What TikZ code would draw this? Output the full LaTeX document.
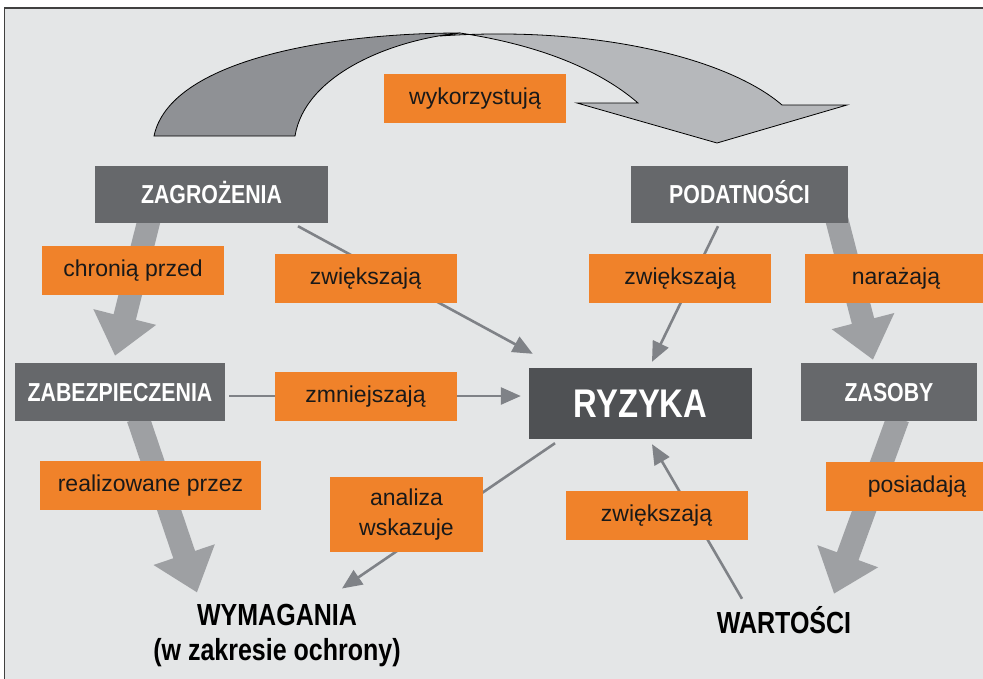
\documentclass[tikz,border=0pt]{standalone}
\usepackage{fontspec}
\setmainfont{Liberation Sans}
\newfontfamily\condfont{Liberation Sans}[FakeStretch=0.82]
\usetikzlibrary{arrows.meta,calc}
\pgfdeclarelayer{bg}
\pgfdeclarelayer{mid}
\pgfsetlayers{bg,mid,main}
\definecolor{bggray}{HTML}{E4E6E7}
\definecolor{boxgray}{HTML}{66686B}
\definecolor{riskgray}{HTML}{4F5154}
\definecolor{lblorange}{HTML}{F0822A}
\definecolor{linegray}{HTML}{7F8287}
\definecolor{fatgray}{HTML}{9EA0A3}
\definecolor{bandlight}{HTML}{B6B8BB}
\definecolor{banddark}{HTML}{8F9195}
\tikzset{
 entity/.style={fill=boxgray,text=white,inner sep=0pt,minimum height=57pt,text height=18.6pt,text depth=0pt,font=\condfont\bfseries\fontsize{26}{30}\selectfont},
 verb/.style={fill=lblorange,text=black!90,inner sep=0pt,minimum width=182pt,minimum height=49pt,font=\fontsize{23}{27}\selectfont},
 result/.style={inner sep=0pt,align=center,font=\condfont\bfseries\fontsize{30.5}{35}\selectfont},
 thinarrow/.style={draw=linegray,line width=2.6pt,-{Triangle[length=20pt,width=17pt]}},
 fatarrow/.style={draw=fatgray,line width=23pt,-{Triangle[length=40pt,width=62pt]}}
}
\begin{document}
\begin{tikzpicture}[x=1pt,y=-1pt]
\useasboundingbox (0,0) rectangle (983,678);
\begin{pgfonlayer}{bg}
\fill[bggray] (4.5,8) rectangle (990,690);
\draw[black!75,line width=1.5pt] (4.5,690) -- (4.5,8) -- (990,8);
\end{pgfonlayer}
% twisted band on top
\filldraw[fill=banddark,draw=black,line width=0.8pt] (154,136) .. controls (170,60) and (330,33) .. (460,33) .. controls (390,40) and (305,75) .. (295,136) -- cycle;
\filldraw[fill=bandlight,draw=black,line width=0.8pt] (440,36) .. controls (600,25) and (730,60) .. (782,105) -- (847,105) -- (717,143) -- (577,103) -- (638,103) .. controls (600,70) and (540,45) .. (460,33) -- cycle;
% boxes
\node[entity,minimum width=233pt] (zagr) at (211.5,194.5) {ZAGROŻENIA};
\node[entity,minimum width=217pt] (poda) at (739.5,194.5) {PODATNOŚCI};
\node[entity,minimum width=210pt,minimum height=58pt] (zabe) at (120,392) {ZABEZPIECZENIA};
\node[entity,minimum width=176pt,minimum height=58pt] (zaso) at (889,392) {ZASOBY};
\node[entity,fill=riskgray,minimum width=223pt,minimum height=71pt,text height=28.6pt,font=\condfont\bfseries\fontsize{40}{44}\selectfont] (ryz) at (640.5,403.5) {RYZYKA};
\node[result] (wyma) at (277,636) {WYMAGANIA\\(w zakresie ochrony)};
\node[result,anchor=base] (wart) at (784,633) {WARTOŚCI};
% connectors
\begin{pgfonlayer}{mid}
\draw[fatarrow] ($(zagr.south)+(-62.5,-3)$) -- ($(zabe.north)+(-5,-7)$);
\draw[fatarrow] ($(zabe.south)+(18,-3)$) -- ($(wyma.north)+(-80,-12)$);
\draw[fatarrow] ($(poda.south)+(97.5,-3)$) -- ($(zaso.north)+(-16,-3)$);
\draw[fatarrow] ($(zaso.south)+(9,-3)$) -- ($(wart.north)+(50,-12)$);
\draw[thinarrow] ($(zagr.south)+(86.5,3)$) -- ($(ryz.north west)+(4,-14)$);
\draw[thinarrow] ($(poda.south)+(-21.5,3)$) -- ($(ryz.north)+(11.5,-6)$);
\draw[thinarrow] ($(zabe.east)+(4,4)$) -- ($(ryz.west)+(-8,-7.5)$);
\draw[thinarrow] ($(ryz.south)+(-85.5,4)$) -- ($(wyma.north)+(65,-16)$);
\draw[thinarrow] ($(wart.north)+(-42,-7)$) -- ($(ryz.south)+(11.5,5)$);
\end{pgfonlayer}
% labels
\node[verb] (wyk) at (475,98.5) {wykorzystują};
\node[verb] (chron) at (133,270.5) {chronią przed};
\node[verb] (zwiekL) at (365.5,278.5) {zwiększają};
\node[verb] (zmniej) at (365.5,396.5) {zmniejszają};
\node[verb] (zwiekR) at (680,278.5) {zwiększają};
\node[verb] (naraz) at (896,278.5) {narażają};
\node[verb,minimum width=221pt] (realiz) at (150.5,485.5) {realizowane przez};
\node[verb,minimum width=153pt,minimum height=75pt,align=center,font=\fontsize{23}{30}\selectfont] (anal) at (406.5,514.5) {analiza\\wskazuje};
\node[verb] (zwiekB) at (656.5,515.5) {zwiększają};
\node[verb] (posiad) at (917,486.5) {posiadają};
\end{tikzpicture}
\end{document}
